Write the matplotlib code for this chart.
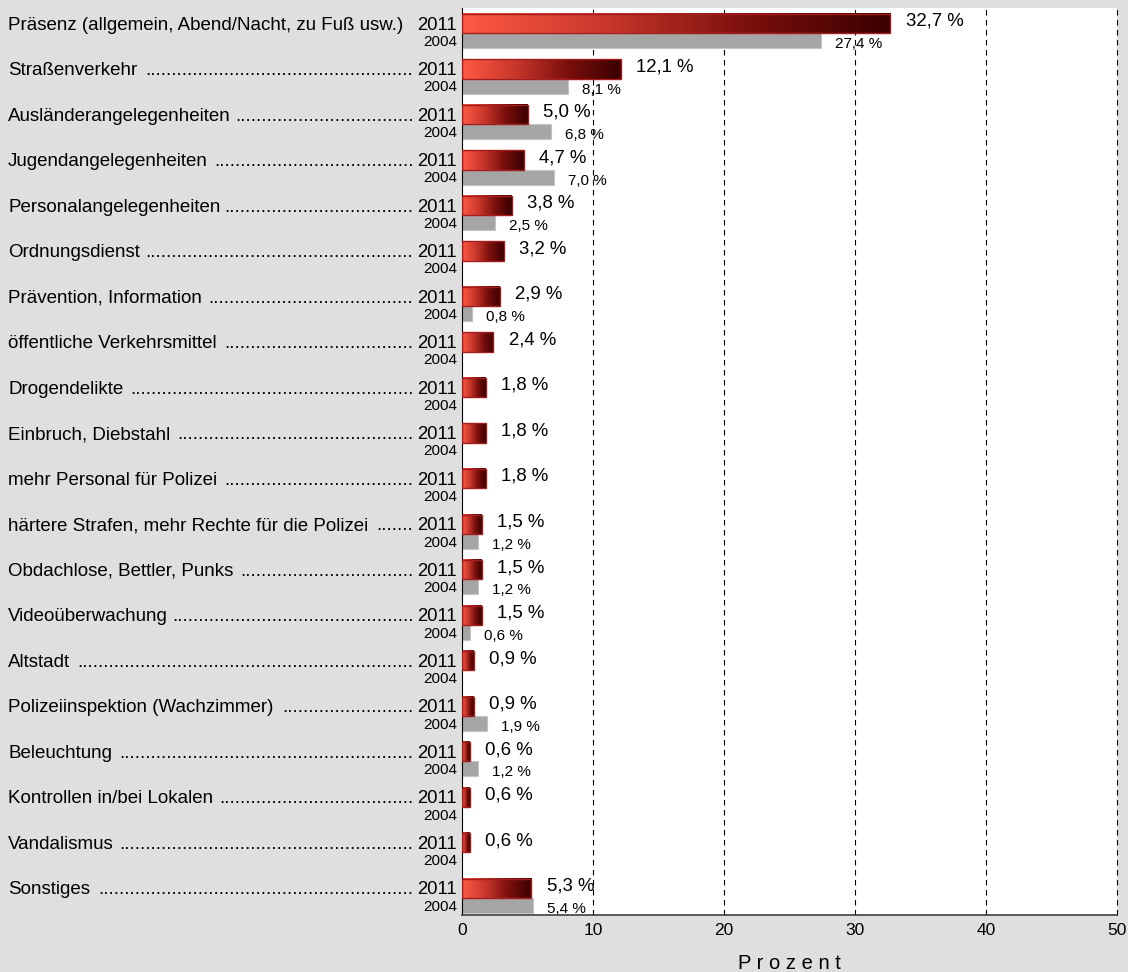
import numpy as np
import matplotlib
matplotlib.use("Agg")
import matplotlib.pyplot as plt
from matplotlib.colors import LinearSegmentedColormap
from matplotlib.transforms import blended_transform_factory

plt.rcParams['font.family'] = ['Liberation Sans', 'DejaVu Sans']

categories = [
    "Präsenz (allgemein, Abend/Nacht, zu Fuß usw.)",
    "Straßenverkehr",
    "Ausländerangelegenheiten",
    "Jugendangelegenheiten",
    "Personalangelegenheiten",
    "Ordnungsdienst",
    "Prävention, Information",
    "öffentliche Verkehrsmittel",
    "Drogendelikte",
    "Einbruch, Diebstahl",
    "mehr Personal für Polizei",
    "härtere Strafen, mehr Rechte für die Polizei",
    "Obdachlose, Bettler, Punks",
    "Videoüberwachung",
    "Altstadt",
    "Polizeiinspektion (Wachzimmer)",
    "Beleuchtung",
    "Kontrollen in/bei Lokalen",
    "Vandalismus",
    "Sonstiges",
]
values_2011 = [32.7, 12.1, 5.0, 4.7, 3.8, 3.2, 2.9, 2.4, 1.8, 1.8,
               1.8, 1.5, 1.5, 1.5, 0.9, 0.9, 0.6, 0.6, 0.6, 5.3]
values_2004 = [27.4, 8.1, 6.8, 7.0, 2.5, None, 0.8, None, None, None,
               None, 1.2, 1.2, 0.6, None, 1.9, 1.2, None, None, 5.4]
years = ["2011", "2004"]
xticks = [0, 10, 20, 30, 40, 50]

W, H = 1128, 972
bg = "#dfdfdf"
fig = plt.figure(figsize=(W / 100, H / 100), dpi=100, facecolor=bg)
ax = fig.add_axes([462 / W, 1 - 915 / H, 655 / W, 907 / H])
ax.set_facecolor("white")

red_grad = LinearSegmentedColormap.from_list(
    "redgrad", ["#ff5a45", "#c9372b", "#7a0f0c", "#3a0000"])
grad = np.linspace(0, 1, 256).reshape(1, -1)

h11, h04 = 0.42, 0.33
for i, (v1, v0) in enumerate(zip(values_2011, values_2004)):
    # 2011 bar with horizontal gradient
    ax.imshow(grad, cmap=red_grad, aspect="auto", interpolation="bicubic",
              extent=[0, v1, i + h11, i], zorder=2)
    ax.barh(i + h11 / 2, v1, height=h11, left=0, facecolor="none",
            edgecolor="#a51c1c", linewidth=1, zorder=3)
    lab = f"{v1:.1f}".replace(".", ",") + " %"
    ax.annotate(lab, (v1, i + h11 / 2), xytext=(11, 1.5),
                textcoords="offset points", ha="left", va="center",
                fontsize=13.4, zorder=4)
    if v0 is not None:
        ax.barh(i + h11 + h04 / 2, v0, height=h04, left=0,
                color="#a5a5a5", edgecolor="#c4c4c4", linewidth=0.8, zorder=2)
        lab = f"{v0:.1f}".replace(".", ",") + " %"
        ax.annotate(lab, (v0, i + h11 + h04 / 2), xytext=(10, -2.5),
                    textcoords="offset points", ha="left", va="center",
                    fontsize=11, zorder=4)

ax.set_xlim(0, 50)
ax.set_ylim(19.8, -0.13)
for x in xticks[1:]:
    ax.axvline(x, color="black", linestyle=(0, (5, 4)), linewidth=0.8,
               zorder=1, clip_on=False)

for side in ("top", "right"):
    ax.spines[side].set_visible(False)
ax.spines["left"].set_color("black")
ax.spines["bottom"].set_color("#404040")
ax.spines["bottom"].set_linewidth(1.2)
ax.set_yticks([])
ax.set_xticks(xticks)
ax.tick_params(axis="x", length=0, pad=6, labelsize=12.5)
ax.set_xlabel("P r o z e n t", fontsize=14.5, labelpad=11)

# category names with dotted leaders, year markers at the axis
trans = blended_transform_factory(fig.transFigure, ax.transData)
renderer = fig.canvas.get_renderer()
fs = 13.5
dot_ref = fig.text(0, 0, "." * 40, fontsize=fs)
dot_w = dot_ref.get_window_extent(renderer).width / 40
dot_ref.remove()
year_x = 457 / W
for i, name in enumerate(categories):
    y = i + h11 / 2 + 0.04
    t = fig.text(8 / W, y, name, transform=trans, ha="left", va="center",
                 fontsize=fs)
    yr = fig.text(year_x, y, years[0], transform=trans, ha="right",
                  va="center", fontsize=13.3)
    fig.text(year_x, i + h11 + h04 / 2 + 0.03, years[1], transform=trans,
             ha="right", va="center", fontsize=11)
    x_end = t.get_window_extent(renderer).x1
    x_year = yr.get_window_extent(renderer).x0
    gap = 4
    n = int((x_year - gap - (x_end + gap)) / dot_w)
    if n > 3:
        fig.text((x_year - gap) / W, y, "." * n, transform=trans, ha="right",
                 va="center", fontsize=fs)

fig.savefig("out.png", dpi=100, facecolor=bg)
